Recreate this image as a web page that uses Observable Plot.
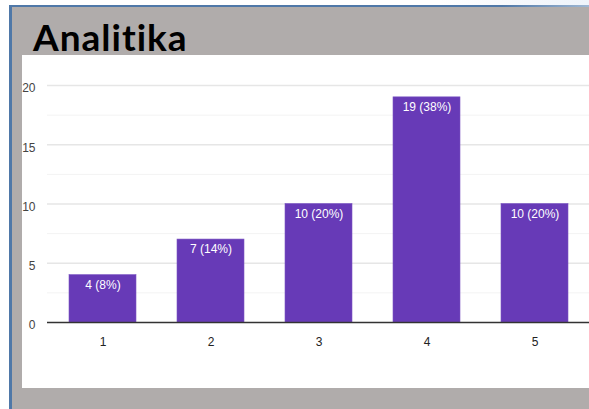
<!DOCTYPE html>
<html>
<head>
<meta charset="utf-8">
<script src="https://cdn.jsdelivr.net/npm/d3@7"></script>
<script src="https://cdn.jsdelivr.net/npm/@observablehq/plot@0.6"></script>
<style>
  html, body { margin: 0; padding: 0; background: #ffffff; }
  #frame { position: relative; width: 589px; height: 409px; overflow: hidden; background: #ffffff; }
  #topline { position: absolute; left: 9px; top: 5px; width: 580px; height: 2px;
    background: linear-gradient(to right, #4f78a8 0%, #4f78a8 85%, #9fb7d3 100%); }
  #topglow { position: absolute; left: 440px; top: 0px; width: 149px; height: 5px;
    background: linear-gradient(to right, #ffffff, #eef3fa); }
  #leftline { position: absolute; left: 9px; top: 5px; width: 3px; height: 404px; background: #4f78a8; }
  #gray { position: absolute; left: 12px; top: 7px; width: 577px; height: 402px; background: #b0acab; }
  #title { position: absolute; left: 33px; top: 15px; font-family: Lato, "Open Sans", sans-serif;
    font-weight: 700; font-size: 37px; line-height: 44px; color: #000; letter-spacing: 1px; }
  #chart { position: absolute; left: 22px; top: 55px; width: 567px; height: 333px; overflow: hidden; background: #fff; }
  #chart svg { max-width: none !important; }
</style>
</head>
<body>
<div id="frame">
  <div id="topglow"></div>
  <div id="gray"></div>
  <div id="topline"></div>
  <div id="leftline"></div>
  <div id="title">Analitika</div>
  <div id="chart"></div>
</div>
<script>
const categories = ["1", "2", "3", "4", "5"];
const counts = [4, 7, 10, 19, 10];
const majorTicks = [0, 5, 10, 15, 20];
const minorTicks = [2.5, 7.5, 12.5, 17.5];

const total = d3.sum(counts);
const data = categories.map((c, i) => ({
  cat: c,
  value: counts[i],
  label: `${counts[i]} (${Math.round(counts[i] / total * 100)}%)`
}));

const chart = Plot.plot({
  width: 569,
  height: 333,
  marginLeft: 25,
  marginRight: 0,
  marginTop: 30,
  marginBottom: 66,
  style: { fontFamily: "'Liberation Sans', Arial, sans-serif", fontSize: "12px", background: "transparent", overflow: "visible" },
  x: { domain: categories, paddingInner: 0.376, paddingOuter: 0.188, label: null },
  y: { domain: [0, 20], label: null },
  marks: [
    Plot.ruleY(minorTicks, { stroke: "#f3f3f3", strokeWidth: 1 }),
    Plot.ruleY(majorTicks.filter(d => d > 0), { stroke: "#e6e6e6", strokeWidth: 1.5 }),
    Plot.barY(data, { x: "cat", y: "value", fill: "#673ab7", stroke: "#7c56c4", strokeWidth: 0.6 }),
    Plot.text(data, { x: "cat", y: "value", text: "label", fill: "#ffffff", dy: 10, fontSize: 12, lineAnchor: "middle" }),
    Plot.ruleY([0], { stroke: "#333333", strokeWidth: 1.5 }),
    Plot.axisX({ tickSize: 0, tickPadding: 15, fill: "#222", fontSize: 12 }),
    Plot.axisY({ ticks: majorTicks, tickSize: 0, tickPadding: 12, dy: 3, fill: "#444", fontSize: 12 })
  ]
});
document.getElementById("chart").appendChild(chart);
</script>
</body>
</html>
